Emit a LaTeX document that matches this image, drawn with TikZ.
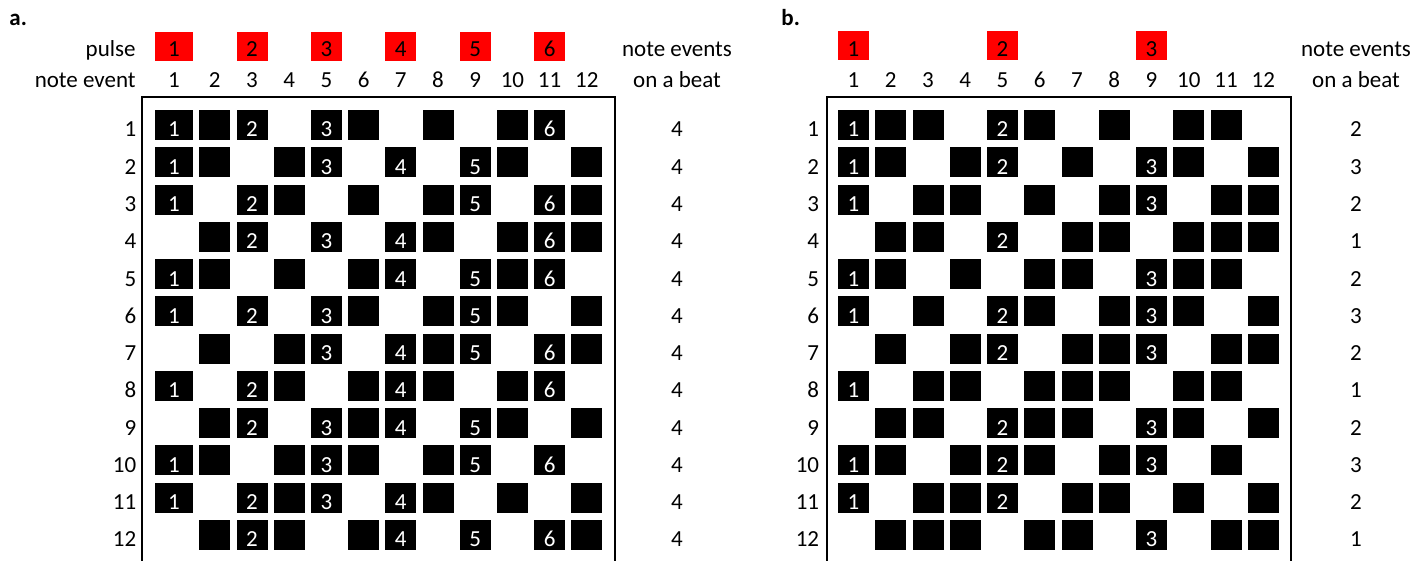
\documentclass[tikz,border=0pt]{standalone}
\usepackage{fontspec}
\setmainfont{Carlito}
\definecolor{pulsered}{RGB}{255,0,0}

\begin{document}
\begin{tikzpicture}[x=0.5pt, y=-0.5pt,
  font=\fontsize{11.5}{14}\selectfont,
  cellbox/.style={fill=black, inner sep=0pt, minimum width=15.5pt, minimum height=15pt},
  widebox/.style={cellbox, minimum width=19pt},
  pulsebox/.style={fill=pulsered, inner sep=0pt, minimum width=15.5pt, minimum height=14.5pt},
  txt/.style={anchor=base, inner sep=0pt},
  celltxt/.style={txt, text=white},
  frame/.style={line width=1pt, draw=black}
]
\useasboundingbox (0,0) rectangle (1428,561);

% panel tags and headings
\node[txt, anchor=base west, font=\fontsize{11.5}{14}\selectfont\bfseries] (tagA) at (9,26) {a.};
\node[txt, anchor=base west, font=\fontsize{11.5}{14}\selectfont\bfseries] (tagB) at (781,26) {b.};
\node[txt, anchor=base east] (pulseA) at (136,57) {pulse};
\node[txt, anchor=base east] (eventA) at (136,88) {note event};
\node[txt] (beatA1) at (677,57) {note events};
\node[txt] (beatA2) at (677,88) {on a beat};
\node[txt] (beatB1) at (1356,57) {note events};
\node[txt] (beatB2) at (1356,88) {on a beat};

% frames, open at the bottom
\draw[frame] (142,570) -- (142,97.5) -- (614.5,97.5) -- (614.5,570);
\draw[frame] (826.5,570) -- (826.5,97.5) -- (1291,97.5) -- (1291,570);

% column numbers and pulses
\foreach \c in {1,...,12} {
  \pgfmathsetmacro\xa{177.6+(\c-1)*37.2}
  \pgfmathsetmacro\xb{853.5+(\c-1)*37.25}
  \ifnum\c=1 \def\xa{174}\fi
  \node[txt] (colA\c) at (\xa,88) {\c};
  \node[txt] (colB\c) at (\xb,88) {\c};
  \ifodd\c
    \pgfmathtruncatemacro\p{(\c+1)/2}
    \ifnum\c=1
      \node[pulsebox, minimum width=19pt] (pulA\p) at (\xa,46.5) {};
    \else
      \node[pulsebox] (pulA\p) at (\xa,46.5) {};
    \fi
    \node[txt] (pulA\p-t) at (\xa,57) {\p};
  \fi
  \pgfmathtruncatemacro\m{mod(\c,4)}
  \ifnum\m=1
    \pgfmathtruncatemacro\q{(\c+3)/4}
    \node[pulsebox] (pulB\q) at (\xb,46) {};
    \node[txt] (pulB\q-t) at (\xb,57) {\q};
  \fi
}

% note events of each rotation
\foreach \pat [count=\r] in {
  {1,1,1,0,1,1,0,1,0,1,1,0},
  {1,1,0,1,1,0,1,0,1,1,0,1},
  {1,0,1,1,0,1,0,1,1,0,1,1},
  {0,1,1,0,1,0,1,1,0,1,1,1},
  {1,1,0,1,0,1,1,0,1,1,1,0},
  {1,0,1,0,1,1,0,1,1,1,0,1},
  {0,1,0,1,1,0,1,1,1,0,1,1},
  {1,0,1,1,0,1,1,1,0,1,1,0},
  {0,1,1,0,1,1,1,0,1,1,0,1},
  {1,1,0,1,1,1,0,1,1,0,1,0},
  {1,0,1,1,1,0,1,1,0,1,0,1},
  {0,1,1,1,0,1,1,0,1,0,1,1}} {
  \pgfmathsetmacro\yc{125+(\r-1)*37.27}
  \pgfmathsetmacro\yb{\yc+12}
  \node[txt, anchor=base east] (rowA\r) at (136.6,\yb) {\r};
  \node[txt, anchor=base east] (rowB\r) at (819.5,\yb) {\r};
  \node[txt] (sumA\r) at (677,\yb) {4};
  \foreach \v [count=\c] in \pat {
    \pgfmathsetmacro\xa{177.6+(\c-1)*37.2}
    \pgfmathsetmacro\xb{853.5+(\c-1)*37.25}
    \ifnum\v=1
      \ifnum\c=1
        \def\xa{174}
        \node[widebox] (evA\r-\c) at (\xa,\yc) {};
      \else
        \node[cellbox] (evA\r-\c) at (\xa,\yc) {};
      \fi
      \node[cellbox] (evB\r-\c) at (\xb,\yc) {};
      \ifodd\c
        \pgfmathtruncatemacro\p{(\c+1)/2}
        \node[celltxt] (evA\r-\c-t) at (\xa,\yb) {\p};
      \fi
      \pgfmathtruncatemacro\m{mod(\c,4)}
      \ifnum\m=1
        \pgfmathtruncatemacro\q{(\c+3)/4}
        \node[celltxt] (evB\r-\c-t) at (\xb,\yb) {\q};
      \fi
    \fi
  }
}

% note events on a beat, panel b
\foreach \n [count=\r] in {2,3,2,1,2,3,2,1,2,3,2,1} {
  \pgfmathsetmacro\yb{137+(\r-1)*37.27}
  \node[txt] (sumB\r) at (1356,\yb) {\n};
}
\end{tikzpicture}
\end{document}
